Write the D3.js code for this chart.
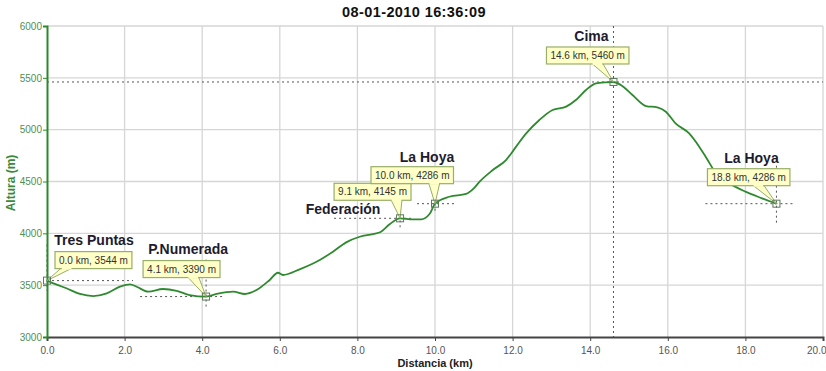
<!DOCTYPE html>
<html><head><meta charset="utf-8">
<script src="https://cdn.jsdelivr.net/npm/d3@7"></script>
<style>
html,body{margin:0;padding:0;background:#fff;}
svg{display:block;font-family:"Liberation Sans",Arial,sans-serif;}
</style></head>
<body><svg id="c" width="826" height="371"></svg>
<script>
// ---- data ----
const title = "08-01-2010 16:36:09";
const distKm = [0,0.25,0.5,0.85,1.19,1.54,1.88,2.14,2.31,2.61,2.99,3.34,3.68,4.1,4.37,4.8,5.1,5.4,5.74,5.95,6.08,6.51,7.03,7.37,7.71,8.06,8.4,8.61,8.83,9.1,9.43,9.64,9.86,10.0,10.37,10.8,11.0,11.15,11.49,11.83,12.09,12.35,12.69,13.03,13.38,13.63,13.89,14.15,14.4,14.6,14.79,15.09,15.44,15.73,15.95,16.2,16.55,16.81,17.0,17.24,17.58,18.0,18.43,18.8];
const altM = [3544,3505,3470,3415,3395,3421,3485,3508,3485,3437,3463,3446,3405,3390,3415,3437,3415,3453,3550,3620,3598,3653,3743,3823,3913,3967,3993,4016,4087,4145,4135,4135,4186,4286,4353,4380,4434,4498,4611,4707,4836,4964,5093,5190,5222,5286,5383,5447,5457,5460,5431,5334,5228,5215,5173,5061,4964,4836,4725,4579,4482,4402,4338,4286];
const xTicks = [0,2,4,6,8,10,12,14,16,18,20];
const yTicks = [3000,3500,4000,4500,5000,5500,6000];
const wayNames = ["Tres Puntas","P.Numerada","Federación","La Hoya","Cima","La Hoya"];
const wayKm = [0.0,4.1,9.1,10.0,14.6,18.8];
const wayAlt = [3544,3390,4145,4286,5460,4286];
const xTitle = "Distancia (km)";
const yTitle = "Altura (m)";

// ---- annotation layout (pixel offsets relative to each marker) ----
const boxOff = [[8,-29],[-63,-36],[-66,-35],[-64,-37],[-67,-35],[-69,-35]];
const labOff = [[47,-36],[-18,-43],[-57,-4],[-8,-42],[-22,-41],[-25,-41]];
const cross = [[0,86,36,10],[66,17,37,11],[66,11,28,9],[18,20,15,10],null,[71,18,38,22]];
const ptrFrac = [0.08,0.58,0.74,0.70,0.55,0.55];

const svg = d3.select("#c");
const L=47,R=823,T=26,B=337;
const x = d3.scaleLinear().domain([0,20]).range([L,R]);
const y = d3.scaleLinear().domain([3000,6000]).range([B,T]);

// grid
const g = svg.append("g");
g.selectAll(".vg").data(xTicks.slice(1)).join("line")
  .attr("x1",d=>x(d)).attr("x2",d=>x(d)).attr("y1",T).attr("y2",B)
  .attr("stroke","#d6d6d6").attr("stroke-width",1.3);
g.selectAll(".hg").data(yTicks.slice(1)).join("line")
  .attr("x1",L).attr("x2",R).attr("y1",d=>y(d)).attr("y2",d=>y(d))
  .attr("stroke","#d6d6d6").attr("stroke-width",1.3);

// title
svg.append("text").attr("x",414).attr("y",17).attr("text-anchor","middle")
  .attr("font-weight","bold").attr("font-size",14.5).attr("fill","#111").attr("letter-spacing",0.4).text(title);

// full crosshair for summit
const dash = "2,3";
const ci = 4;
svg.append("line").attr("x1",L).attr("x2",R).attr("y1",y(wayAlt[ci])).attr("y2",y(wayAlt[ci]))
  .attr("stroke","#555").attr("stroke-dasharray",dash);
svg.append("line").attr("x1",x(wayKm[ci])).attr("x2",x(wayKm[ci])).attr("y1",T).attr("y2",B)
  .attr("stroke","#555").attr("stroke-dasharray",dash);

// short crosshairs
wayKm.forEach((k,i)=>{
  const c = cross[i]; if(!c) return;
  const px=x(k), py=y(wayAlt[i]);
  svg.append("line").attr("x1",px-c[0]).attr("x2",px+c[1]).attr("y1",py).attr("y2",py)
    .attr("stroke","#555").attr("stroke-dasharray",dash);
  svg.append("line").attr("x1",px).attr("x2",px).attr("y1",py-c[2]).attr("y2",py+c[3])
    .attr("stroke","#555").attr("stroke-dasharray",dash);
});

// profile line
const line = d3.line().x((d,i)=>x(distKm[i])).y((d,i)=>y(altM[i])).curve(d3.curveMonotoneX);
svg.append("path").datum(altM).attr("d",line).attr("fill","none")
  .attr("stroke","#2f8a2f").attr("stroke-width",1.8);

// axes
const xAxis = d3.axisBottom(x).tickValues(xTicks).tickFormat(d3.format(".1f")).tickSize(4).tickPadding(6);
const xa = svg.append("g").attr("transform",`translate(0,${B})`).call(xAxis);
xa.select(".domain").attr("stroke","#444").attr("stroke-width",2);
xa.selectAll(".tick line").attr("stroke","#444");
xa.selectAll("text").attr("fill","#555").attr("font-size",10).attr("font-family","Liberation Sans, Arial");
xa.selectAll(".tick").filter(d=>d===20).select("text").attr("text-anchor","end").attr("dx",3);

const yAxis = d3.axisLeft(y).tickValues(yTicks).tickFormat(d3.format("d")).tickSize(4).tickPadding(1);
const ya = svg.append("g").attr("transform",`translate(${L},0)`).call(yAxis);
ya.select(".domain").attr("stroke","#2a8a2a").attr("stroke-width",2);
ya.selectAll(".tick line").attr("stroke","#2a8a2a");
ya.selectAll("text").attr("fill","#4f8f4f").attr("font-size",10).attr("font-family","Liberation Sans, Arial");

// axis titles
svg.append("text").attr("x",435).attr("y",367).attr("text-anchor","middle")
  .attr("font-weight","bold").attr("font-size",11).attr("fill","#222").text(xTitle);
svg.append("text").attr("transform","translate(15,183) rotate(-90)").attr("text-anchor","middle")
  .attr("font-weight","bold").attr("font-size",12).attr("fill","#3a8a3a").text(yTitle);

// annotations
wayKm.forEach((k,i)=>{
  const px=x(k), py=y(wayAlt[i]);
  const txt = `${d3.format(".1f")(k)} km, ${wayAlt[i]} m`;
  const ga = svg.append("g");
  const t = ga.append("text").attr("font-size",10).attr("fill","#333").text(txt);
  const tw = t.node().getComputedTextLength();
  const bw = tw+8, bh=17;
  const bx = px+boxOff[i][0], by = py+boxOff[i][1];
  const b1 = bx + bw*ptrFrac[i], b2 = b1+11;
  ga.insert("path","text").attr("d",`M${b1},${by+bh-0.5}L${px},${py}L${b2},${by+bh-0.5}Z`)
    .attr("fill","#ffffc8").attr("stroke","#98ae6a").attr("stroke-width",1);
  ga.insert("rect","text").attr("x",bx).attr("y",by).attr("width",bw).attr("height",bh)
    .attr("fill","#ffffc8").attr("stroke","#98ae6a").attr("stroke-width",1.2);
  ga.insert("rect","text").attr("x",b1+0.7).attr("y",by+bh-1.5).attr("width",b2-b1-1.4).attr("height",2.5).attr("fill","#ffffc8");
  t.attr("x",bx+4).attr("y",by+bh-5);
  svg.append("rect").attr("x",px-3.5).attr("y",py-3.5).attr("width",7).attr("height",7)
    .attr("fill","none").attr("stroke","#5a7a5a").attr("stroke-width",1);
  svg.append("text").attr("x",px+labOff[i][0]).attr("y",py+labOff[i][1]).attr("text-anchor","middle")
    .attr("font-weight","bold").attr("font-size",14).attr("fill","#1c1c2e").text(wayNames[i]);
});
</script></body></html>
